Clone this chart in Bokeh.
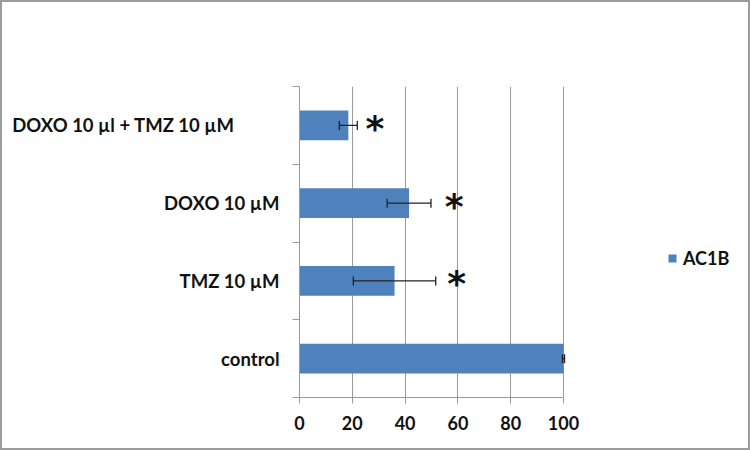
from bokeh.plotting import figure
from bokeh.models import (ColumnDataSource, Whisker, FixedTicker, Legend, LegendItem,
                          Range1d, TeeHead, InlineStyleSheet)
from bokeh.core.properties import value
from bokeh.embed import file_html
from bokeh.resources import INLINE

# data (bottom to top)
categories = ["control", "TMZ 10 µM", "DOXO 10 µM", "DOXO 10 µl + TMZ 10 µM"]
viability = [100, 36.0, 41.5, 18.5]
errors = [0.4, 15.6, 8.3, 3.4]
star_x = [None, 59.5, 58.6, 28.6]
series_name = "AC1B"
x_ticks = [0, 20, 40, 60, 80, 100]

FONT = "Lato"
BAR = "#4f81bd"
GRID = "#9a9a9a"

pos = [i + 0.5 for i in range(len(categories))]
src = ColumnDataSource(dict(
    y=pos, v=viability,
    lo=[v - e for v, e in zip(viability, errors)],
    hi=[v + e for v, e in zip(viability, errors)],
))
star_src = ColumnDataSource(dict(
    x=[s for s in star_x if s is not None],
    y=[y for y, s in zip(pos, star_x) if s is not None],
    t=["*" for s in star_x if s is not None],
))

# frame runs to the right edge so the legend is not clipped; axis/grid bounded to 0..100
FRAME_LEFT = 299
AXIS_PX = 264
x_end = x_ticks[-1] * (750 - FRAME_LEFT) / AXIS_PX

p = figure(width=750, height=450, output_backend="svg", toolbar_location=None,
           x_range=Range1d(0, x_end), y_range=Range1d(0, len(categories)),
           min_border_left=FRAME_LEFT, min_border_right=0, min_border_top=86, min_border_bottom=53)
p.outline_line_color = None
p.background_fill_color = "white"
p.border_fill_color = "white"
p.stylesheets = [InlineStyleSheet(css=(
    ":host { position: relative; }"
    ":host::after { content: ''; position: absolute; left: 0; top: 0; right: 0; bottom: 0;"
    " border: 2px solid #9c9c9c; pointer-events: none; z-index: 100; box-sizing: border-box; }"
))]

r = p.hbar(y="y", right="v", left=0, height=0.38, source=src, fill_color=BAR, line_color=None)

w = Whisker(source=src, base="y", lower="lo", upper="hi", dimension="width",
            level="overlay", line_color="#222222", line_width=1.3,
            lower_head=TeeHead(size=9, line_color="#222222", line_width=1.3),
            upper_head=TeeHead(size=9, line_color="#222222", line_width=1.3))
p.add_layout(w)

p.text(x="x", y="y", text="t", source=star_src, text_font=value("DejaVu Sans"),
       text_font_size="36px", text_font_style="bold", text_align="center",
       text_baseline="middle", y_offset=3, text_color="#111111")

# x axis
p.xaxis.ticker = FixedTicker(ticks=x_ticks)
p.xaxis.bounds = (x_ticks[0], x_ticks[-1])
p.xaxis.axis_line_color = GRID
p.xaxis.major_tick_line_color = GRID
p.xaxis.major_tick_out = 6
p.xaxis.major_tick_in = 0
p.xaxis.minor_tick_line_color = None
p.xaxis.major_label_text_font = FONT
p.xaxis.major_label_text_font_size = "18px"
p.xaxis.major_label_text_font_style = "bold"
p.xaxis.major_label_text_color = "#111111"
p.xaxis.major_label_standoff = 12

# y axis (the longest label sits further left in the original, as Excel placed it)
labels = list(categories)
labels[-1] = labels[-1] + "\u00a0" * 10
p.yaxis.ticker = FixedTicker(ticks=pos, minor_ticks=list(range(len(categories) + 1)))
p.yaxis.major_label_overrides = {pv: c for pv, c in zip(pos, labels)}
p.yaxis.axis_line_color = GRID
p.yaxis.major_tick_line_color = None
p.yaxis.major_tick_out = 0
p.yaxis.major_tick_in = 0
p.yaxis.minor_tick_line_color = GRID
p.yaxis.minor_tick_out = 7
p.yaxis.minor_tick_in = 0
p.yaxis.major_label_text_font = FONT
p.yaxis.major_label_text_font_size = "18.5px"
p.yaxis.major_label_text_font_style = "bold"
p.yaxis.major_label_text_color = "#111111"
p.yaxis.major_label_standoff = 13

p.xgrid.ticker = FixedTicker(ticks=x_ticks)
p.xgrid.bounds = (x_ticks[0], x_ticks[-1])
p.xgrid.grid_line_color = GRID
p.xgrid.grid_line_width = 1
p.ygrid.grid_line_color = None

legend = Legend(items=[LegendItem(label=series_name, renderers=[r])],
                location=(368, 128), orientation="vertical",
                border_line_color=None, background_fill_alpha=0,
                glyph_width=10, glyph_height=10, padding=0, margin=0,
                label_text_font=FONT, label_text_font_size="18px",
                label_text_font_style="bold", label_text_color="#111111",
                label_standoff=6)
p.add_layout(legend, "center")

open("out.html", "w").write(file_html(p, INLINE))
